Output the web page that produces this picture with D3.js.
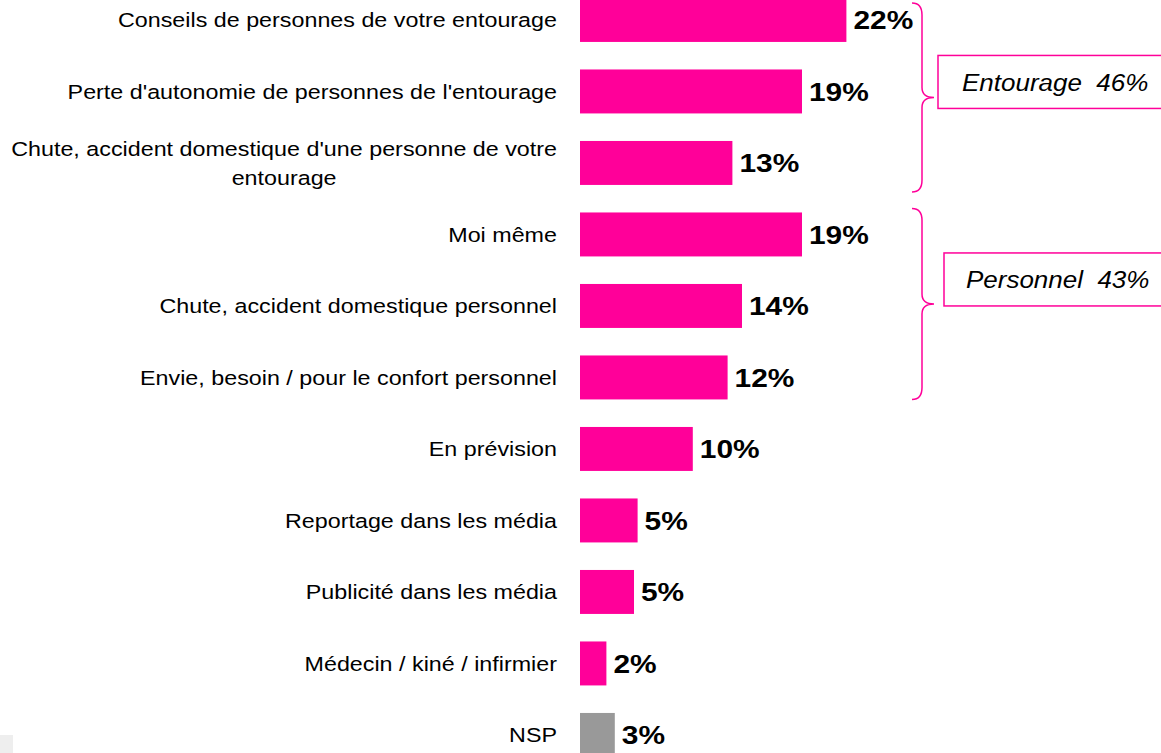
<!DOCTYPE html>
<html><head><meta charset="utf-8">
<script src="https://cdn.jsdelivr.net/npm/d3@7/dist/d3.min.js"></script>
<style>body{margin:0;background:#fff;}svg{display:block;font-family:"Liberation Sans",Arial,sans-serif;}</style>
</head><body>
<svg id="c" width="1161" height="753"></svg>
<script>
const categories = [
  "Conseils de personnes de votre entourage",
  "Perte d'autonomie de personnes de l'entourage",
  "Chute, accident domestique d'une personne de votre|entourage",
  "Moi même",
  "Chute, accident domestique personnel",
  "Envie, besoin / pour le confort personnel",
  "En prévision",
  "Reportage dans les média",
  "Publicité dans les média",
  "Médecin / kiné / infirmier",
  "NSP"
];
const values = [22.2, 18.5, 12.7, 18.5, 13.5, 12.3, 9.4, 4.8, 4.5, 2.2, 2.9];
const valueLabels = ["22%", "19%", "13%", "19%", "14%", "12%", "10%", "5%", "5%", "2%", "3%"];
const barColors = ["#FF0099","#FF0099","#FF0099","#FF0099","#FF0099","#FF0099","#FF0099","#FF0099","#FF0099","#FF0099","#999999"];
const groups = [
  {name: "Entourage\u00A0\u00A046%", from: 0, to: 2},
  {name: "Personnel\u00A0\u00A043%", from: 3, to: 5}
];

const svg = d3.select("#c");
const x = d3.scaleLinear().domain([0, 1]).range([580, 592]);
const y = d3.scaleBand().domain(categories).range([-15.8, 770.7]).paddingInner(0.385).paddingOuter(0.1925);

// stretched text helper (reference text is horizontally widened)
function stext(px, py, str, size, sx, anchor, opts = {}) {
  const t = svg.append("text")
    .attr("transform", `translate(${px},${py}) scale(${sx},1)`)
    .attr("x", 0).attr("y", 0).attr("dy", "0.36em")
    .attr("text-anchor", anchor).attr("font-size", size).attr("fill", "#000").text(str);
  if (opts.bold) t.attr("font-weight", "bold");
  if (opts.italic) t.attr("font-style", "italic");
  return t;
}

// small grey corner mark
svg.append("rect").attr("x", 0).attr("y", 735).attr("width", 13).attr("height", 20).attr("fill", "#eeeeee");

svg.selectAll("rect.bar").data(categories).join("rect").attr("class", "bar")
  .attr("x", x(0)).attr("y", d => y(d))
  .attr("width", (d, i) => x(values[i]) - x(0))
  .attr("height", y.bandwidth())
  .attr("fill", (d, i) => barColors[i]);

categories.forEach((c, i) => {
  stext(x(values[i]) + 7, y(c) + y.bandwidth() / 2, valueLabels[i], 26, 1.15, "start", {bold: true});
});

const labelRight = 557, catSize = 20.5, catSx = 1.137;
categories.forEach(c => {
  const lines = c.split("|");
  const cy = y(c) + y.bandwidth() / 2;
  if (lines.length === 1) {
    stext(labelRight, cy, c, catSize, catSx, "end");
  } else {
    const lh = 29;
    const t1 = stext(labelRight, cy - lh / 2, lines[0], catSize, catSx, "end");
    const w = t1.node().getComputedTextLength() * catSx;
    stext(labelRight - w / 2, cy + lh / 2, lines[1], catSize, catSx, "middle");
  }
});

// braces and boxes
const pink = "#FF0099";
groups.forEach((g, gi) => {
  const y0 = y(categories[g.from]) + (gi === 0 ? 5 : -4);
  const y1 = y(categories[g.to]) + y.bandwidth() + (gi === 0 ? 7 : 0);
  const ym = (y0 + y1) / 2;
  const xe = 912, xv = 922, xt = 934;
  const p = `M${xe},${y0} Q${xv},${y0} ${xv},${y0 + 12} L${xv},${ym - 10} Q${xv},${ym} ${xt},${ym} Q${xv},${ym} ${xv},${ym + 10} L${xv},${y1 - 12} Q${xv},${y1} ${xe},${y1}`;
  svg.append("path").attr("d", p).attr("fill", "none").attr("stroke", pink).attr("stroke-width", 1.5);
  const bx = gi === 0 ? 938 : 944;
  const by = gi === 0 ? ym - 42 : ym - 51;
  svg.append("rect").attr("x", bx).attr("y", by).attr("width", 240).attr("height", 53)
    .attr("fill", "#fff").attr("stroke", pink).attr("stroke-width", 1.5);
  stext(gi === 0 ? 962 : 966, by + 27, g.name, 23, 1.13, "start", {italic: true});
});
</script>
</body></html>
